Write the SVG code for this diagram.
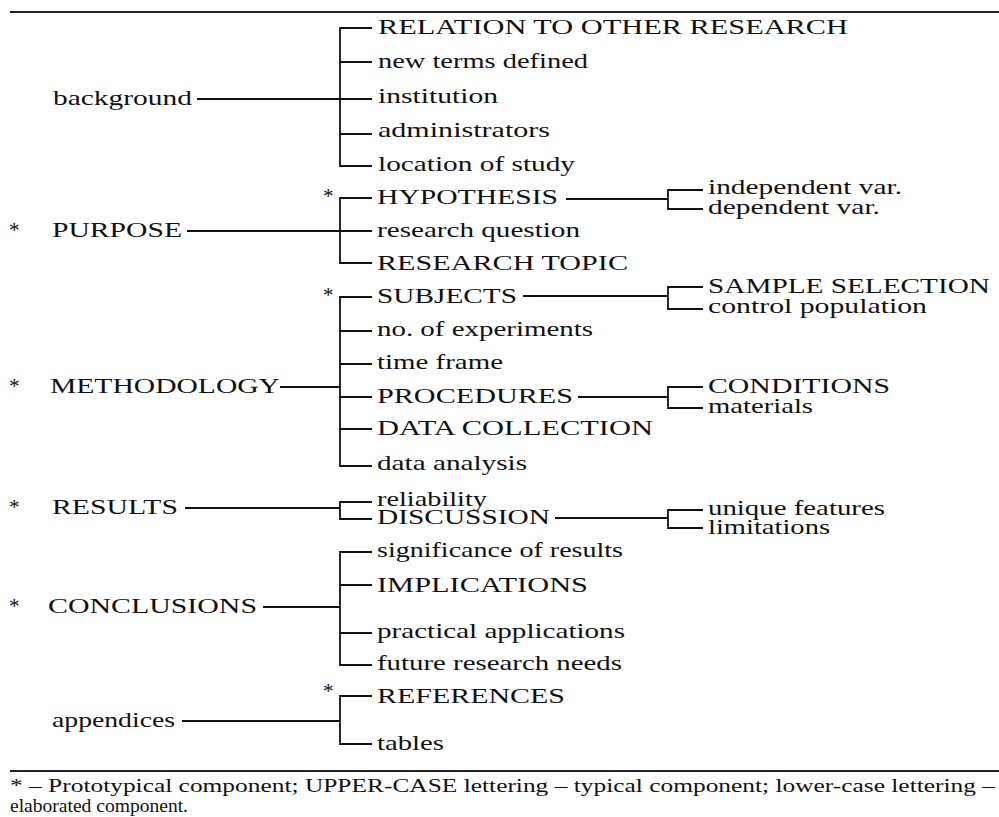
<svg xmlns="http://www.w3.org/2000/svg" width="999" height="817" viewBox="0 0 999 817">
<style>
.t{font-family:"Liberation Serif","Times New Roman",serif;font-size:21px;fill:#111}
.f{font-family:"Liberation Serif","Times New Roman",serif;font-size:18.5px;fill:#111}
.c{fill:none;stroke:#111;stroke-width:1.8}
.r{fill:none;stroke:#222;stroke-width:2}
</style>
<rect width="999" height="817" fill="#fff"/>
<path class="r" d="M10,12 H999 M10,771 H999"/>
<g id="connectors">
<path class="c" d="M197,99 H372 M372,28 H340 V166 H372 M340,62 H372 M340,134 H372"/>
<path class="c" d="M187,231 H372 M372,198 H340 V263 H372"/>
<path class="c" d="M566,199 H668 M703,190 H668 V209 H703"/>
<path class="c" d="M280,387 H340 M372,297 H340 V466 H372 M340,331 H372 M340,364 H372 M340,397 H372 M340,429 H372"/>
<path class="c" d="M523,296 H668 M703,287 H668 V309 H703"/>
<path class="c" d="M578,397 H668 M703,387 H668 V408 H703"/>
<path class="c" d="M185,508 H340 M372,502 H340 V519 H372"/>
<path class="c" d="M555,518 H668 M703,510 H668 V528 H703"/>
<path class="c" d="M263,607 H340 M372,552 H340 V665 H372 M340,585 H372 M340,633 H372"/>
<path class="c" d="M182,721 H340 M372,696 H340 V744 H372"/>
</g>
<g id="background"><text class="t" x="53" y="105" textLength="139" lengthAdjust="spacingAndGlyphs">background</text></g>
<g id="relation"><text class="t" x="378" y="34" textLength="470" lengthAdjust="spacingAndGlyphs">RELATION TO OTHER RESEARCH</text></g>
<g id="new-terms"><text class="t" x="378" y="68" textLength="210" lengthAdjust="spacingAndGlyphs">new terms defined</text></g>
<g id="institution"><text class="t" x="378" y="103" textLength="120" lengthAdjust="spacingAndGlyphs">institution</text></g>
<g id="administrators"><text class="t" x="378" y="137" textLength="172" lengthAdjust="spacingAndGlyphs">administrators</text></g>
<g id="location"><text class="t" x="378" y="171" textLength="197" lengthAdjust="spacingAndGlyphs">location of study</text></g>

<g id="purpose"><text class="t" x="9" y="237">*</text><text class="t" x="52" y="237" textLength="130" lengthAdjust="spacingAndGlyphs">PURPOSE</text></g>
<g id="hypothesis"><text class="t" x="323" y="203">*</text><text class="t" x="377" y="204" textLength="181" lengthAdjust="spacingAndGlyphs">HYPOTHESIS</text></g>
<g id="research-question"><text class="t" x="377" y="237" textLength="203" lengthAdjust="spacingAndGlyphs">research question</text></g>
<g id="research-topic"><text class="t" x="377" y="270" textLength="251" lengthAdjust="spacingAndGlyphs">RESEARCH TOPIC</text></g>
<g id="independent-var"><text class="t" x="708" y="194" textLength="194" lengthAdjust="spacingAndGlyphs">independent var.</text></g>
<g id="dependent-var"><text class="t" x="708" y="214" textLength="172" lengthAdjust="spacingAndGlyphs">dependent var.</text></g>

<g id="methodology"><text class="t" x="9" y="393">*</text><text class="t" x="50" y="393" textLength="230" lengthAdjust="spacingAndGlyphs">METHODOLOGY</text></g>
<g id="subjects"><text class="t" x="323" y="302">*</text><text class="t" x="377" y="303" textLength="140" lengthAdjust="spacingAndGlyphs">SUBJECTS</text></g>
<g id="experiments"><text class="t" x="377" y="336" textLength="216" lengthAdjust="spacingAndGlyphs">no. of experiments</text></g>
<g id="time-frame"><text class="t" x="377" y="369" textLength="126" lengthAdjust="spacingAndGlyphs">time frame</text></g>
<g id="procedures"><text class="t" x="377" y="403" textLength="196" lengthAdjust="spacingAndGlyphs">PROCEDURES</text></g>
<g id="data-collection"><text class="t" x="377" y="435" textLength="276" lengthAdjust="spacingAndGlyphs">DATA COLLECTION</text></g>
<g id="data-analysis"><text class="t" x="377" y="470" textLength="150" lengthAdjust="spacingAndGlyphs">data analysis</text></g>
<g id="sample-selection"><text class="t" x="708" y="293" textLength="282" lengthAdjust="spacingAndGlyphs">SAMPLE SELECTION</text></g>
<g id="control-population"><text class="t" x="708" y="313" textLength="219" lengthAdjust="spacingAndGlyphs">control population</text></g>
<g id="conditions"><text class="t" x="708" y="393" textLength="182" lengthAdjust="spacingAndGlyphs">CONDITIONS</text></g>
<g id="materials"><text class="t" x="708" y="413" textLength="105" lengthAdjust="spacingAndGlyphs">materials</text></g>

<g id="results"><text class="t" x="9" y="514">*</text><text class="t" x="52" y="514" textLength="126" lengthAdjust="spacingAndGlyphs">RESULTS</text></g>
<g id="reliability"><text class="t" x="377" y="506" textLength="110" lengthAdjust="spacingAndGlyphs">reliability</text></g>
<g id="discussion"><text class="t" x="377" y="524" textLength="173" lengthAdjust="spacingAndGlyphs">DISCUSSION</text></g>
<g id="unique-features"><text class="t" x="708" y="515" textLength="177" lengthAdjust="spacingAndGlyphs">unique features</text></g>
<g id="limitations"><text class="t" x="708" y="534" textLength="122" lengthAdjust="spacingAndGlyphs">limitations</text></g>

<g id="conclusions"><text class="t" x="9" y="613">*</text><text class="t" x="48" y="613" textLength="209" lengthAdjust="spacingAndGlyphs">CONCLUSIONS</text></g>
<g id="significance"><text class="t" x="377" y="557" textLength="246" lengthAdjust="spacingAndGlyphs">significance of results</text></g>
<g id="implications"><text class="t" x="377" y="592" textLength="211" lengthAdjust="spacingAndGlyphs">IMPLICATIONS</text></g>
<g id="practical"><text class="t" x="377" y="638" textLength="248" lengthAdjust="spacingAndGlyphs">practical applications</text></g>
<g id="future"><text class="t" x="377" y="670" textLength="245" lengthAdjust="spacingAndGlyphs">future research needs</text></g>

<g id="appendices"><text class="t" x="52" y="727" textLength="123" lengthAdjust="spacingAndGlyphs">appendices</text></g>
<g id="references"><text class="t" x="323" y="698">*</text><text class="t" x="377" y="703" textLength="188" lengthAdjust="spacingAndGlyphs">REFERENCES</text></g>
<g id="tables"><text class="t" x="377" y="750" textLength="67" lengthAdjust="spacingAndGlyphs">tables</text></g>

<g id="footnote">
<text class="f" x="10" y="792" textLength="985" lengthAdjust="spacingAndGlyphs">* – Prototypical component; UPPER-CASE lettering – typical component; lower-case lettering –</text>
<text class="f" x="10" y="812" textLength="178" lengthAdjust="spacingAndGlyphs">elaborated component.</text>
</g>
</svg>
